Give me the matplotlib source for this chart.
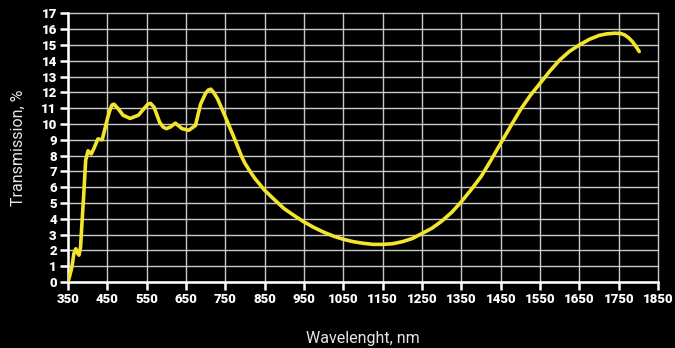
import matplotlib
matplotlib.use("Agg")
import matplotlib.pyplot as plt

# values
wavelength = [350, 354, 360, 365, 370, 375, 378, 382, 385, 390, 395, 401, 409, 416,
              426, 437, 444, 451, 457, 462, 467, 478, 490, 508, 529, 546, 553, 560, 569, 583,
              592, 600, 610, 623, 640, 657, 674, 687, 700, 707, 713, 720, 730, 750, 760, 771, 780,
              792, 800, 814, 825, 850, 875, 899, 925, 950, 975, 1000, 1025, 1050, 1075, 1100,
              1125, 1150, 1175, 1200, 1225, 1250, 1275, 1300, 1325, 1350, 1375, 1400, 1425,
              1450, 1475, 1500, 1525, 1550, 1575, 1600, 1625, 1650, 1675, 1700, 1720, 1740,
              1755, 1765, 1775, 1785, 1795, 1802]
transmission = [0.0, 0.35, 0.95, 1.8, 2.1, 1.8, 1.7, 2.2, 3.5, 5.5, 7.7, 8.3, 8.1, 8.45,
                9.05, 9.0, 9.7, 10.4, 10.9, 11.2, 11.25, 10.95, 10.55, 10.35, 10.55, 11.05, 11.25, 11.3, 11.05, 10.1,
                9.8, 9.7, 9.8, 10.05, 9.7, 9.6, 9.9, 11.25, 11.95, 12.15, 12.2, 12.0, 11.6, 10.45, 9.85, 9.2, 8.65,
                7.9, 7.5, 6.95, 6.55, 5.8, 5.2, 4.65, 4.2, 3.8, 3.45, 3.15, 2.9, 2.7, 2.55, 2.45,
                2.38, 2.38, 2.42, 2.55, 2.75, 3.07, 3.4, 3.85, 4.4, 5.08, 5.85, 6.67, 7.7,
                8.78, 9.85, 10.9, 11.8, 12.57, 13.35, 14.05, 14.6, 15.0, 15.35, 15.6, 15.7, 15.74,
                15.72, 15.63, 15.45, 15.2, 14.85, 14.58]

xticks = list(range(350, 1851, 100))
yticks = list(range(0, 18))

fig = plt.figure(figsize=(6.75, 3.48), dpi=100, facecolor="black")
ax = fig.add_axes([0.1007, 0.1897, 0.8743, 0.7721], facecolor="black")

ax.plot(wavelength, transmission, color="#f2e52b", lw=2.6, solid_joinstyle="round",
        solid_capstyle="round", zorder=3)

ax.set_xlim(350, 1850)
ax.set_ylim(0, 17)
ax.set_xticks(xticks)
ax.set_yticks(yticks)
ax.grid(True, color="#c8c8c8", lw=1.0, zorder=1)
for gl in ax.get_xgridlines() + ax.get_ygridlines():
    gl.set_clip_on(False)

for s in ["top", "right"]:
    ax.spines[s].set_visible(False)
for s in ["left", "bottom"]:
    ax.spines[s].set_color("white")
    ax.spines[s].set_linewidth(1.8)

ax.tick_params(colors="white", length=6, width=1.8, direction="out", pad=2)
for lab in ax.get_xticklabels() + ax.get_yticklabels():
    lab.set_fontfamily("Roboto")
    lab.set_fontweight("heavy")
    lab.set_fontsize(9.5)
    lab.set_color("white")

ax.set_xlabel("Wavelenght, nm", color="#e6e6e6", fontsize=11.5, family="Roboto", labelpad=18)
ax.set_ylabel("Transmission, %", color="#e6e6e6", fontsize=11.5, family="Roboto", labelpad=11)

fig.savefig("out.png", dpi=100, facecolor="black")
